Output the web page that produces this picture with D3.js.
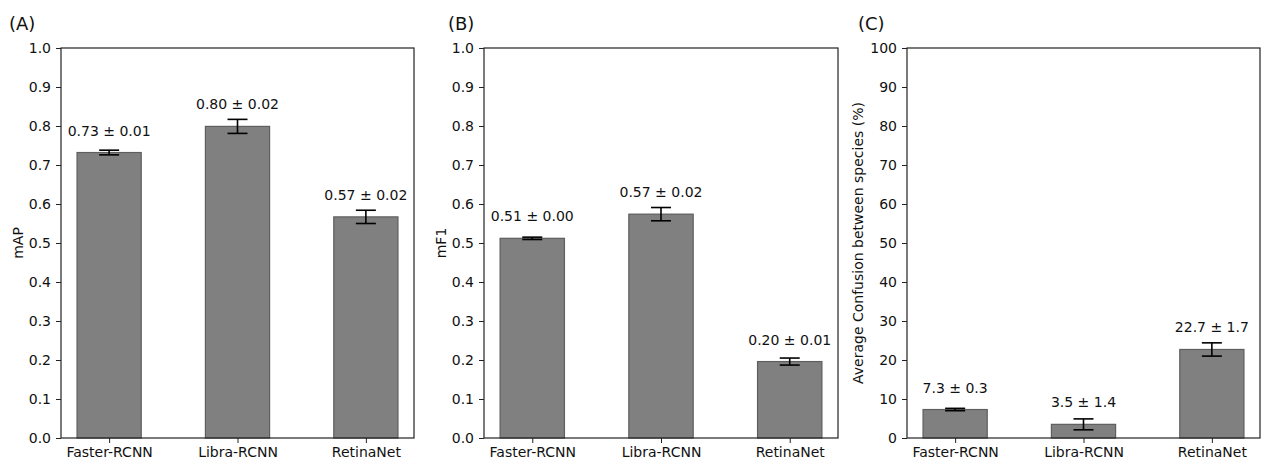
<!DOCTYPE html>
<html>
<head>
<meta charset="utf-8">
<script src="https://cdn.jsdelivr.net/npm/d3@7"></script>
<style>
  body { margin: 0; background: #fff; }
  svg text { font-family: "DejaVu Sans", sans-serif; fill: #111; }
</style>
</head>
<body>
<div id="chart"></div>
<script>
// Data
const categories = ["Faster-RCNN", "Libra-RCNN", "RetinaNet"];

const mapMean = [0.732, 0.799, 0.567];
const mapErr = [0.006, 0.018, 0.017];

const mf1Mean = [0.512, 0.574, 0.196];
const mf1Err = [0.003, 0.017, 0.009];

const confMean = [7.3, 3.5, 22.7];
const confErr = [0.3, 1.4, 1.7];

const unitTicks = [0, 0.1, 0.2, 0.3, 0.4, 0.5, 0.6, 0.7, 0.8, 0.9, 1.0];
const pctTicks = [0, 10, 20, 30, 40, 50, 60, 70, 80, 90, 100];

const panels = [
    { tag: "(A)", ylabel: "mAP", mean: mapMean, err: mapErr, max: 1, ticks: unitTicks,
      tickFmt: d3.format(".1f"), valFmt: d3.format(".2f"), left: 61, right: 414, tagX: 9, labelX: 18 },
    { tag: "(B)", ylabel: "mF1", mean: mf1Mean, err: mf1Err, max: 1, ticks: unitTicks,
      tickFmt: d3.format(".1f"), valFmt: d3.format(".2f"), left: 484, right: 838, tagX: 448, labelX: 441 },
    { tag: "(C)", ylabel: "Average Confusion between species (%)", mean: confMean, err: confErr, max: 100, ticks: pctTicks,
      tickFmt: d3.format("d"), valFmt: d3.format(".1f"), left: 907, right: 1260, tagX: 858, labelX: 858 }
];

const W = 1265, H = 465;
const plotTop = 48, plotBottom = 438;

const svg = d3.select("#chart").append("svg")
    .attr("width", W)
    .attr("height", H);

panels.forEach(p => drawPanel(p));

function drawPanel(p) {
    const idx = categories.map((c, i) => i);

    // matplotlib-like x: bars of width 0.5 at 0,1,2, with 5% margins
    const x = d3.scaleLinear().domain([-0.375, 2.375]).range([p.left, p.right]);
    const y = d3.scaleLinear().domain([0, p.max]).range([plotBottom, plotTop]);

    const g = svg.append("g");

    // Bars
    g.selectAll("rect.bar")
        .data(idx)
        .enter()
        .append("rect")
        .attr("class", "bar")
        .attr("x", i => x(i - 0.25))
        .attr("width", x(0.25) - x(-0.25))
        .attr("y", i => y(p.mean[i]))
        .attr("height", i => y(0) - y(p.mean[i]))
        .attr("fill", "#808080")
        .attr("stroke", "#5e5e5e")
        .attr("stroke-width", 1.2);

    // Error bars
    const eb = g.selectAll("g.err")
        .data(idx)
        .enter()
        .append("g")
        .attr("class", "err")
        .attr("stroke", "#000")
        .attr("stroke-width", 1.6);

    eb.append("line")
        .attr("x1", i => x(i)).attr("x2", i => x(i))
        .attr("y1", i => y(p.mean[i] - p.err[i]))
        .attr("y2", i => y(p.mean[i] + p.err[i]));

    [-1, 1].forEach(s => {
        eb.append("line")
            .attr("x1", i => x(i) - 10).attr("x2", i => x(i) + 10)
            .attr("y1", i => y(p.mean[i] + s * p.err[i]))
            .attr("y2", i => y(p.mean[i] + s * p.err[i]));
    });

    // Value labels
    g.selectAll("text.val")
        .data(idx)
        .enter()
        .append("text")
        .attr("class", "val")
        .attr("x", i => x(i))
        .attr("y", i => y(p.mean[i]) - 17)
        .attr("text-anchor", "middle")
        .style("font-size", "14px")
        .text(i => `${p.valFmt(p.mean[i])} \u00b1 ${p.valFmt(p.err[i])}`);

    // Frame
    g.append("rect")
        .attr("x", p.left).attr("y", plotTop)
        .attr("width", p.right - p.left).attr("height", plotBottom - plotTop)
        .attr("fill", "none")
        .attr("stroke", "#222")
        .attr("stroke-width", 1.2);

    // Y axis
    const yAxis = g.append("g")
        .attr("transform", `translate(${p.left},0)`)
        .call(d3.axisLeft(y).tickValues(p.ticks).tickFormat(p.tickFmt).tickSize(5).tickPadding(5));
    yAxis.select(".domain").remove();
    yAxis.selectAll("text").style("font-size", "14px").attr("fill", "#111");
    yAxis.selectAll("line").attr("stroke", "#222");

    // X axis
    const xAxis = g.append("g")
        .attr("transform", `translate(0,${plotBottom})`)
        .call(d3.axisBottom(x).tickValues(idx).tickFormat(i => categories[i]).tickSize(5).tickPadding(4));
    xAxis.select(".domain").remove();
    xAxis.selectAll("text").style("font-size", "14px").attr("fill", "#111");
    xAxis.selectAll("line").attr("stroke", "#222");

    // Y label
    g.append("text")
        .attr("transform", `translate(${p.labelX},${(plotTop + plotBottom) / 2}) rotate(-90)`)
        .attr("text-anchor", "middle")
        .attr("dy", "0.35em")
        .style("font-size", "14px")
        .text(p.ylabel);

    // Panel tag
    g.append("text")
        .attr("x", p.tagX)
        .attr("y", 30)
        .style("font-size", "18px")
        .text(p.tag);
}
</script>
</body>
</html>
